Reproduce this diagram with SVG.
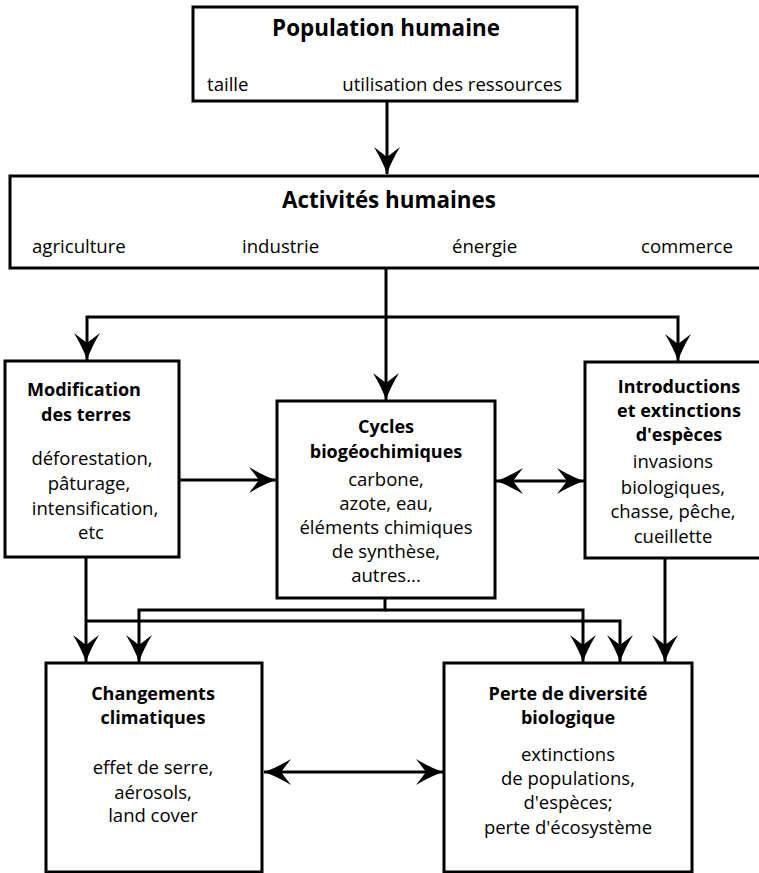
<svg xmlns="http://www.w3.org/2000/svg" width="759" height="873" viewBox="0 0 759 873">
<defs>
<style>
.box{fill:#fff;stroke:#000;stroke-width:3}
.ln{fill:none;stroke:#000;stroke-width:3}
text{font-family:"Open Sans","Noto Sans","Liberation Sans",sans-serif;fill:#000}
.h1{font-size:22.4px;font-weight:bold;text-anchor:middle}
.h2{font-size:18px;font-weight:bold;text-anchor:middle}
.t{font-size:18.6px}
.c{font-size:18.5px;text-anchor:middle}
</style>
<marker id="ah" markerUnits="userSpaceOnUse" markerWidth="32" markerHeight="32" viewBox="-29 -16 32 32" refX="0" refY="0" orient="auto-start-reverse">
<path d="M0,0 Q-12,-4 -27,-13 L-17,0 L-27,13 Q-12,4 0,0 Z" fill="#000"/>
</marker>
</defs>
<rect width="759" height="873" fill="#fff"/>
<g id="connectors">
<path class="ln" d="M387,101 V174" marker-end="url(#ah)"/>
<path class="ln" d="M386,268 V400" marker-end="url(#ah)"/>
<path class="ln" d="M386,317 H87 V360" marker-end="url(#ah)"/>
<path class="ln" d="M386,317 H678 V361" marker-end="url(#ah)"/>
<path class="ln" d="M179,480 H276" marker-end="url(#ah)"/>
<path class="ln" d="M496,481 H584" marker-start="url(#ah)" marker-end="url(#ah)"/>
<path class="ln" d="M86,557 V662" marker-end="url(#ah)"/>
<path class="ln" d="M86,621 H620 V662" marker-end="url(#ah)"/>
<path class="ln" d="M385,598 V610 H139 V662" marker-end="url(#ah)"/>
<path class="ln" d="M385,610 H583 V662" marker-end="url(#ah)"/>
<path class="ln" d="M665,558 V662" marker-end="url(#ah)"/>
<path class="ln" d="M264,772 H443" marker-start="url(#ah)" marker-end="url(#ah)"/>
</g>
<g id="population">
<rect class="box" x="193" y="7" width="384" height="94"/>
<text class="h1" x="386" y="36">Population humaine</text>
<text class="t" x="207" y="91">taille</text>
<text class="t" x="562" y="91" text-anchor="end">utilisation des ressources</text>
</g>
<g id="activites">
<rect class="box" x="10" y="176" width="755" height="92"/>
<text class="h1" x="389" y="208">Activités humaines</text>
<text class="t" x="32" y="253">agriculture</text>
<text class="t" x="242" y="253">industrie</text>
<text class="t" x="452" y="253">énergie</text>
<text class="t" x="641" y="253">commerce</text>
</g>
<g id="modification">
<rect class="box" x="5" y="361" width="174" height="196"/>
<text class="h2" x="84" y="396">Modification</text>
<text class="h2" x="86" y="421">des terres</text>
<text class="c" x="92" y="465">déforestation,</text>
<text class="c" x="89" y="490">pâturage,</text>
<text class="c" x="95" y="515">intensification,</text>
<text class="c" x="91" y="539">etc</text>
</g>
<g id="cycles">
<rect class="box" x="277" y="401" width="218" height="197"/>
<text class="h2" x="386" y="433">Cycles</text>
<text class="h2" x="386" y="458">biogéochimiques</text>
<text class="c" x="386" y="486">carbone,</text>
<text class="c" x="386" y="510">azote, eau,</text>
<text class="c" x="386" y="534">éléments chimiques</text>
<text class="c" x="386" y="558">de synthèse,</text>
<text class="c" x="386" y="582">autres...</text>
</g>
<g id="introductions">
<rect class="box" x="585" y="362" width="180" height="196"/>
<text class="h2" x="679" y="393">Introductions</text>
<text class="h2" x="679" y="417">et extinctions</text>
<text class="h2" x="679" y="441">d'espèces</text>
<text class="c" x="673" y="468">invasions</text>
<text class="c" x="673" y="494">biologiques,</text>
<text class="c" x="673" y="518">chasse, pêche,</text>
<text class="c" x="673" y="543">cueillette</text>
</g>
<g id="changements">
<rect class="box" x="46" y="663" width="216" height="209"/>
<text class="h2" x="153" y="700">Changements</text>
<text class="h2" x="153" y="724">climatiques</text>
<text class="c" x="153" y="774">effet de serre,</text>
<text class="c" x="153" y="799">aérosols,</text>
<text class="c" x="153" y="822">land cover</text>
</g>
<g id="perte">
<rect class="box" x="444" y="663" width="248" height="209"/>
<text class="h2" x="568" y="700">Perte de diversité</text>
<text class="h2" x="568" y="724">biologique</text>
<text class="c" x="568" y="761">extinctions</text>
<text class="c" x="568" y="785">de populations,</text>
<text class="c" x="568" y="809">d'espèces;</text>
<text class="c" x="568" y="834">perte d'écosystème</text>
</g>
</svg>
